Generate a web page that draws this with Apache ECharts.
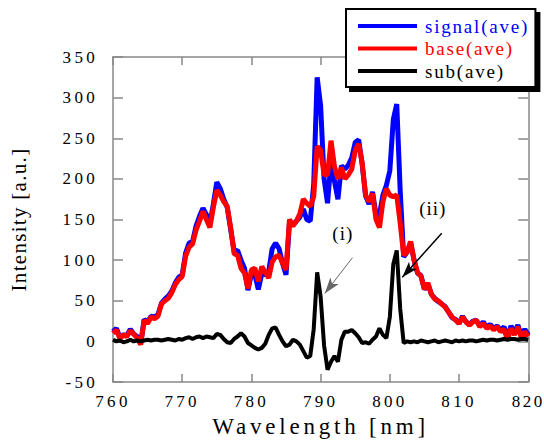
<!DOCTYPE html>
<html>
<head>
<meta charset="utf-8">
<script src="https://cdn.jsdelivr.net/npm/echarts@6/dist/echarts.min.js"></script>
<style>
html,body{margin:0;padding:0;background:#fff;}
#chart{width:544px;height:443px;}
</style>
</head>
<body>
<div id="chart"></div>
<script>
// Wavelength samples (nm)
const wavelength = [
760.0,760.5,761.0,761.5,762.0,762.5,763.0,763.5,764.0,764.5,
765.0,765.5,766.0,766.5,767.0,767.5,768.0,768.5,769.0,769.5,
770.0,770.5,771.0,771.5,772.0,772.5,773.0,773.5,774.0,774.5,
775.0,775.5,776.0,776.5,777.0,777.5,778.0,778.5,779.0,779.5,
780.0,780.5,781.0,781.5,782.0,782.5,783.0,783.5,784.0,784.5,
785.0,785.5,786.0,786.5,787.0,787.5,788.0,788.5,789.0,789.5,
790.0,790.5,791.0,791.5,792.0,792.5,793.0,793.5,794.0,794.5,
795.0,795.5,796.0,796.5,797.0,797.5,798.0,798.5,799.0,799.5,
800.0,800.5,801.0,801.5,802.0,802.5,803.0,803.5,804.0,804.5,
805.0,805.5,806.0,806.5,807.0,807.5,808.0,808.5,809.0,809.5,
810.0,810.5,811.0,811.5,812.0,812.5,813.0,813.5,814.0,814.5,
815.0,815.5,816.0,816.5,817.0,817.5,818.0,818.5,819.0,819.5,
820.0];

const signalAve = [
12,16,5,8,7,15,9,6,-3,27,
24,31,30,33,47,52,56,62,72,79,
82,109,121,123,142,154,164,156,145,169,
196,188,175,165,138,111,112,100,90,63,
83,82,64,84,82,86,114,121,114,96,
82,146,144,148,153,163,150,148,193,325,
290,200,170,222,197,175,216,212,217,226,
245,248,218,179,169,184,156,156,180,192,
210,273,292,185,104,110,122,100,84,81,
64,71,58,53,49,46,43,36,29,27,
22,31,24,21,25,26,19,24,17,21,
16,19,14,18,4,19,11,20,7,15,
8];

const baseAve = [
10,14,3,8,6,13,9,4,-4,26,
22,30,28,31,46,50,53,60,70,76,
80,105,116,120,137,148,160,150,140,165,
186,180,172,166,140,108,106,90,84,65,
88,90,74,92,85,78,98,104,106,96,
88,150,142,148,157,175,170,166,178,240,
235,205,205,247,215,200,214,200,205,212,
235,243,220,180,172,182,150,140,172,188,
180,178,180,145,106,110,123,100,85,80,
64,72,58,52,50,46,42,36,30,26,
22,30,24,20,24,26,18,22,16,19,
14,18,12,15,2,16,8,18,4,12,
6];

const subAve = [
2,0,1,-1,0,2,0,1,0,1,
2,1,2,2,1,2,3,2,1,3,
2,4,5,3,5,6,4,6,5,4,
9,8,3,-1,-2,3,6,10,6,-2,
-5,-8,-10,-8,-3,8,16,17,8,0,
-6,-4,2,0,-4,-12,-20,-18,15,85,
55,-5,-35,-25,-18,-25,2,12,12,14,
10,5,-2,-1,-3,2,6,16,8,4,
30,95,112,40,-2,0,-1,0,-1,1,
0,-1,0,1,-1,0,1,0,-1,1,
0,1,0,1,1,0,1,2,1,2,
2,1,2,3,2,3,3,2,3,3,
2];

const seriesNames = ['signal(ave)', 'base(ave)', 'sub(ave)'];
const seriesColors = ['#0000ff', '#ff0000', '#000000'];
const xTicks = {min: 760, max: 820, interval: 10};
const yTicks = {min: -50, max: 350, interval: 50};

// annotation arrows [from, to] in data coords and label positions
const annoI = {label: '(i)', at: [793.2, 133], from: [794.6, 103], to: [790.6, 59]};
const annoII = {label: '(ii)', at: [806.2, 164], from: [807.5, 133], to: [801.8, 79]};

function pairs(vals) { return wavelength.map((w, i) => [w, vals[i]]); }

const FONT = 'Liberation Serif';
const axisLineStyle = {color: '#888888', width: 1.5};

const chart = echarts.init(document.getElementById('chart'), null, {renderer: 'svg'});
const option = {
  animation: false,
  backgroundColor: '#ffffff',
  grid: {left: 113, top: 57, right: 15, bottom: 61, containLabel: false},
  legend: {
    orient: 'vertical',
    left: 346, top: 9,
    padding: [7, 26, 6, 12],
    itemGap: 2.5,
    itemWidth: 59, itemHeight: 4,
    icon: 'rect',
    backgroundColor: '#ffffff',
    borderColor: '#000000', borderWidth: 2, borderRadius: 0,
    shadowColor: '#000000', shadowBlur: 0, shadowOffsetX: 4, shadowOffsetY: 4,
    textStyle: {fontFamily: FONT, fontSize: 19, lineHeight: 20, padding: [0, 0, 0, 3]},
    data: seriesNames.map((n, i) => ({name: n, textStyle: {color: seriesColors[i]}}))
  },
  xAxis: [{
    type: 'value', position: 'bottom',
    min: xTicks.min, max: xTicks.max, interval: xTicks.interval,
    axisLine: {show: true, onZero: false, lineStyle: axisLineStyle},
    axisTick: {show: true, inside: true, length: 8, lineStyle: axisLineStyle},
    axisLabel: {color: '#000', fontFamily: FONT, fontSize: 17, margin: 11},
    splitLine: {show: false},
    name: 'Wavelength [nm]', nameLocation: 'middle', nameGap: 30,
    nameTextStyle: {color: '#000', fontFamily: FONT, fontSize: 23}
  }, {
    type: 'value', position: 'top',
    min: xTicks.min, max: xTicks.max, interval: xTicks.interval,
    axisLine: {show: true, onZero: false, lineStyle: axisLineStyle},
    axisTick: {show: true, inside: true, length: 8, lineStyle: axisLineStyle},
    axisLabel: {show: false}, splitLine: {show: false}
  }],
  yAxis: [{
    type: 'value', position: 'left',
    min: yTicks.min, max: yTicks.max, interval: yTicks.interval,
    axisLine: {show: true, onZero: false, lineStyle: axisLineStyle},
    axisTick: {show: true, inside: true, length: 10, lineStyle: axisLineStyle},
    axisLabel: {color: '#000', fontFamily: FONT, fontSize: 17, margin: 15},
    splitLine: {show: false},
    name: 'Intensity [a.u.]', nameLocation: 'middle', nameGap: 84,
    nameTextStyle: {color: '#000', fontFamily: FONT, fontSize: 21}
  }, {
    type: 'value', position: 'right',
    min: yTicks.min, max: yTicks.max, interval: yTicks.interval,
    axisLine: {show: true, onZero: false, lineStyle: axisLineStyle},
    axisTick: {show: true, inside: true, length: 10, lineStyle: axisLineStyle},
    axisLabel: {show: false}, splitLine: {show: false}
  }],
  series: [
    {name: seriesNames[0], type: 'line', data: pairs(signalAve), showSymbol: false,
     lineStyle: {color: seriesColors[0], width: 5}, itemStyle: {color: seriesColors[0]}, z: 2},
    {name: seriesNames[1], type: 'line', data: pairs(baseAve), showSymbol: false,
     lineStyle: {color: seriesColors[1], width: 5}, itemStyle: {color: seriesColors[1]}, z: 3},
    {name: seriesNames[2], type: 'line', data: pairs(subAve), showSymbol: false,
     lineStyle: {color: seriesColors[2], width: 4}, itemStyle: {color: seriesColors[2]}, z: 4,
     markLine: {
       silent: true, symbol: ['none', 'arrow'], animation: false,
       label: {show: false},
       data: [
         [{coord: annoI.from, lineStyle: {color: '#666666', width: 1, type: 'solid'}, symbolSize: 8},
          {coord: annoI.to}],
         [{coord: annoII.from, lineStyle: {color: '#000000', width: 1.5, type: 'solid'}, symbolSize: 9},
          {coord: annoII.to}]
       ]
     },
     markPoint: {
       silent: true, symbol: 'circle', symbolSize: 1,
       itemStyle: {color: 'rgba(0,0,0,0)'},
       label: {show: true, position: 'inside', color: '#000', fontFamily: FONT, fontSize: 19},
       data: [
         {coord: annoI.at, label: {formatter: annoI.label}},
         {coord: annoII.at, label: {formatter: annoII.label}}
       ]
     }
    }
  ]
};
chart.setOption(option);

function applySpacing() {
  const texts = document.querySelectorAll('#chart text');
  texts.forEach(t => {
    const s = t.textContent;
    let ls = null;
    if (s === 'Wavelength [nm]') ls = 3.8;
    else if (s === 'Intensity [a.u.]') ls = 1.3;
    else if (s === '820') ls = 2.5;
    else if (/^-?\d+$/.test(s)) ls = 3.3;
    else if (s.indexOf('(ave)') >= 0) ls = 1.8;
    else if (s === '(i)' || s === '(ii)') ls = 1;
    if (ls !== null) t.style.letterSpacing = ls + 'px';
  });
}
applySpacing();
chart.on('finished', applySpacing);
setTimeout(applySpacing, 50);
</script>
</body>
</html>
